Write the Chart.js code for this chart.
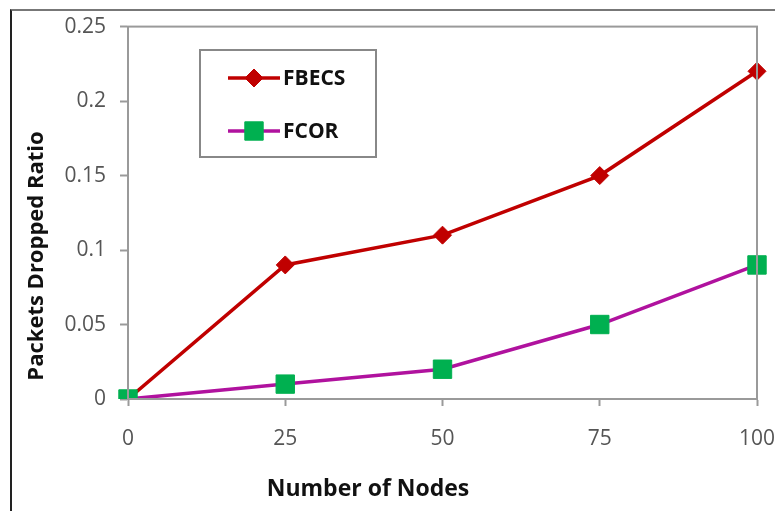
<!DOCTYPE html>
<html lang="en">
<head>
    <meta charset="UTF-8">
    <title>Packets Dropped Ratio</title>
    <style>
        html, body {
            margin: 0;
            padding: 0;
            background: #fff;
        }
        #frame {
            position: absolute;
            left: 10px;
            top: 9px;
            width: 800px;
            height: 600px;
            border-top: 2px solid #777;
            border-left: 2px solid #222;
        }
        #chart-container {
            position: absolute;
            left: 0;
            top: 0;
            width: 775px;
            height: 511px;
        }
    </style>
</head>
<body>
    <div id="frame"></div>
    <div id="chart-container">
        <canvas id="chart"></canvas>
    </div>

    <script src="https://cdn.jsdelivr.net/npm/chart.js"></script>
    <script>
        // data
        const nodes = ['0', '25', '50', '75', '100'];
        const fbecs = [0, 0.09, 0.11, 0.15, 0.22];
        const fcor = [0, 0.01, 0.02, 0.05, 0.09];
        const yTicks = [0, 0.05, 0.1, 0.15, 0.2, 0.25];
        const yTickLabels = ['0', '0.05', '0.1', '0.15', '0.2', '0.25'];
        const xTitle = 'Number of Nodes';
        const yTitle = 'Packets Dropped Ratio';

        const FONT = '"Open Sans", Arial, sans-serif';
        const RED = '#C00000';
        const MAGENTA = '#B0129E';
        const GREEN = '#00B050';
        const AXIS = '#9a9a9a';

        // plot frame, axis titles (placed off-centre like the original) and legend box
        const boxPlugin = {
            id: 'boxPlugin',
            afterDraw(chart) {
                const ctx = chart.ctx;
                const a = chart.chartArea;
                ctx.save();
                ctx.strokeStyle = AXIS;
                ctx.lineWidth = 2;
                ctx.strokeRect(a.left, a.top, a.right - a.left, a.bottom - a.top);

                // axis titles
                ctx.fillStyle = '#111';
                ctx.font = 'bold 23px ' + FONT;
                ctx.textAlign = 'center';
                ctx.textBaseline = 'middle';
                ctx.fillText(xTitle, 368, 489);
                ctx.save();
                ctx.translate(37, 256);
                ctx.rotate(-Math.PI / 2);
                ctx.font = 'bold 22px ' + FONT;
                ctx.fillText(yTitle, 0, 0);
                ctx.restore();

                // legend
                ctx.textAlign = 'left';
                ctx.strokeStyle = '#888';
                ctx.lineWidth = 2;
                ctx.strokeRect(200, 50, 176, 107);
                const items = [
                    {label: 'FBECS', y: 78, ds: chart.data.datasets[0]},
                    {label: 'FCOR', y: 131, ds: chart.data.datasets[1]}
                ];
                items.forEach(it => {
                    ctx.strokeStyle = it.ds.borderColor;
                    ctx.lineWidth = it.ds.borderWidth;
                    ctx.beginPath();
                    ctx.moveTo(228, it.y);
                    ctx.lineTo(280, it.y);
                    ctx.stroke();
                    ctx.fillStyle = it.ds.pointBackgroundColor;
                    ctx.strokeStyle = it.ds.pointBorderColor;
                    ctx.lineWidth = 1;
                    Chart.helpers.drawPoint(ctx, {
                        pointStyle: it.ds.pointStyle,
                        radius: it.ds.pointRadius,
                        borderWidth: 1,
                        rotation: 0
                    }, 254, it.y);
                    ctx.fillStyle = '#111';
                    ctx.font = 'bold 21px ' + FONT;
                    ctx.textBaseline = 'middle';
                    ctx.fillText(it.label, 283, it.y + 1);
                });
                ctx.restore();
            }
        };

        const ctx = document.getElementById('chart').getContext('2d');
        new Chart(ctx, {
            type: 'line',
            data: {
                labels: nodes,
                datasets: [{
                    label: 'FBECS',
                    data: fbecs,
                    borderColor: RED,
                    borderWidth: 3.5,
                    pointStyle: 'rectRot',
                    pointRadius: 9,
                    pointBackgroundColor: RED,
                    pointBorderColor: RED,
                    pointBorderWidth: 1,
                    order: 1
                }, {
                    label: 'FCOR',
                    data: fcor,
                    borderColor: MAGENTA,
                    borderWidth: 3.5,
                    pointStyle: 'rect',
                    pointRadius: 13,
                    pointBackgroundColor: GREEN,
                    pointBorderColor: GREEN,
                    pointBorderWidth: 1,
                    order: 0
                }]
            },
            options: {
                responsive: true,
                maintainAspectRatio: false,
                animation: false,
                layout: {
                    padding: {top: 22, right: 0, bottom: 0, left: 0}
                },
                plugins: {
                    legend: {display: false},
                    tooltip: {enabled: false}
                },
                scales: {
                    x: {
                        type: 'category',
                        offset: false,
                        afterFit: s => {
                            s.height = 112;
                            s.paddingRight = 18;
                            s.paddingLeft = 0;
                        },
                        border: {color: AXIS, width: 2},
                        grid: {
                            drawOnChartArea: false,
                            color: AXIS,
                            tickLength: 7,
                            tickWidth: 2
                        },
                        ticks: {
                            color: '#555',
                            padding: 20,
                            maxRotation: 0,
                            font: {family: FONT, size: 21}
                        }
                    },
                    y: {
                        min: 0,
                        max: 0.25,
                        afterFit: s => { s.width = 128; },
                        afterBuildTicks: s => {
                            s.ticks = yTicks.map(v => ({value: v}));
                        },
                        border: {color: AXIS, width: 2},
                        grid: {
                            drawOnChartArea: false,
                            color: AXIS,
                            tickLength: 8,
                            tickWidth: 2
                        },
                        ticks: {
                            color: '#555',
                            padding: 14,
                            font: {family: FONT, size: 21},
                            callback: (v, i) => yTickLabels[i]
                        }
                    }
                }
            },
            plugins: [boxPlugin]
        });
    </script>
</body>
</html>
